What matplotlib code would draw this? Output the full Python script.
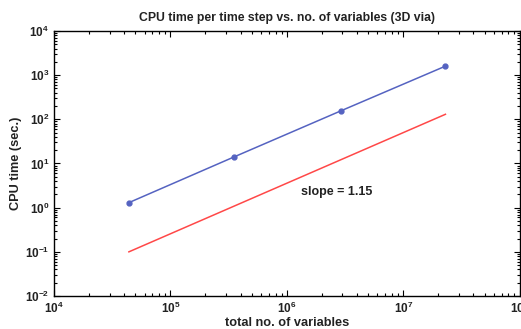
import matplotlib
matplotlib.use("Agg")
import matplotlib.pyplot as plt
import numpy as np

plt.rcParams['font.family'] = ['Liberation Sans', 'DejaVu Sans']
plt.rcParams['font.weight'] = 'bold'
plt.rcParams['mathtext.fontset'] = 'custom'
plt.rcParams['mathtext.rm'] = 'Liberation Sans:bold'
plt.rcParams['mathtext.it'] = 'Liberation Sans:italic:bold'
plt.rcParams['mathtext.bf'] = 'Liberation Sans:bold'
plt.rcParams['text.color'] = '#222222'

# measured CPU time per step
n_vars = [4.4e4, 3.5e5, 2.9e6, 2.3e7]
cpu_time = [1.3, 14, 155, 1600]

# reference slope line endpoints
ref_x = [4.4e4, 2.3e7]
ref_y = [0.1, 130]

fig = plt.figure(figsize=(5.21, 3.29), dpi=100)
ax = fig.add_axes([0.1036, 0.1003, 0.894, 0.8055])

ax.plot(n_vars, cpu_time, color='#5563c1', marker='o', markersize=3.5, linewidth=1.1)
ax.plot(ref_x, ref_y, color='#ff4848', linewidth=1.1)

ax.set_xscale('log')
ax.set_yscale('log')
ax.set_xlim(1e4, 1e8)
ax.set_ylim(1e-2, 1e4)

ax.text(1.33e6, 1.9, 'slope = 1.15', fontsize=9, color='#222222', fontweight='bold')

ax.set_title('CPU time per time step vs. no. of variables (3D via)', fontsize=8.8,
             pad=7, color='#222222', fontweight='bold')
ax.set_xlabel('total no. of variables', fontsize=9.2, labelpad=0.5, color='#222222',
              fontweight='bold')
ax.set_ylabel('CPU time (sec.)', fontsize=9.2, labelpad=2, color='#222222',
              fontweight='bold')

ax.tick_params(which='both', direction='in', top=True, right=True, labelsize=8.5,
               width=0.8, labelcolor='#222222')
ax.tick_params(which='major', length=4)
ax.tick_params(which='minor', length=2)
for s in ax.spines.values():
    s.set_linewidth(1.0)

fig.savefig('out.png', dpi=100)
